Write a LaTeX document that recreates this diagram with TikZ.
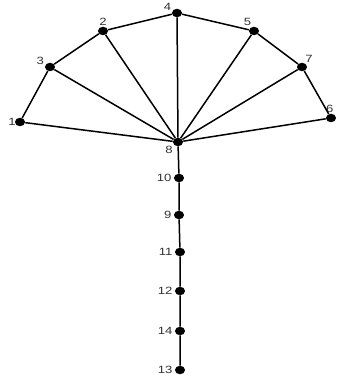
\documentclass[tikz,border=0pt]{standalone}
\usepackage{fontspec}
\setmainfont{Liberation Sans}
\usetikzlibrary{positioning}

\begin{document}
\begin{tikzpicture}[
        x=1pt, y=-1pt,
        font=\fontsize{10.5}{12}\selectfont,
        vertex/.style={
            circle,
            fill=black,
            inner sep=0pt,
            minimum size=8.5pt,
            xscale=1.2
        },
        every label/.style={
            text=black!80,
            inner sep=1.5pt,
            xscale=1.25
        },
        edge/.style={line width=1.5pt}
    ]

    \useasboundingbox (0,0) rectangle (338,382);

    % Fan
    \node[vertex, label={[label distance=-2.5pt]left:1}] (n1) at (20,122) {};
    \node[vertex, label={[label distance=-1pt]165:3}] (n3) at (50,67) {};
    \node[vertex, label={[label distance=-1pt]above:2}] (n2) at (103,31) {};
    \node[vertex, label={[label distance=-1pt]160:4}] (n4) at (177,13) {};
    \node[vertex, label={[label distance=-1pt]100:5}] (n5) at (254,31) {};
    \node[vertex, label={[label distance=-1pt]70:7}] (n7) at (302,67) {};
    \node[vertex, label={[label distance=-1pt, xshift=-1pt]above:6}] (n6) at (331,118) {};

    % Hub
    \node[vertex, label={[label distance=-1pt]215:8}] (n8) at (178,142) {};

    % Stem
    \node[vertex, label=left:10] (n10) at (179,178) {};
    \node[vertex, label=left:9] (n9) at (179,215) {};
    \node[vertex, label=left:11] (n11) at (180,252) {};
    \node[vertex, label=left:12] (n12) at (180,291) {};
    \node[vertex, label=left:14] (n14) at (180,331) {};
    \node[vertex, label=left:13] (n13) at (180,370) {};

    % Edges
    \draw[edge] (n1) -- (n3) -- (n2) -- (n4) -- (n5) -- (n7) -- (n6);
    \foreach \v in {n1, n3, n2, n4, n5, n7, n6}
        \draw[edge] (\v) -- (n8);
    \draw[edge] (n8) -- (n10) -- (n9) -- (n11) -- (n12) -- (n14) -- (n13);

\end{tikzpicture}
\end{document}
